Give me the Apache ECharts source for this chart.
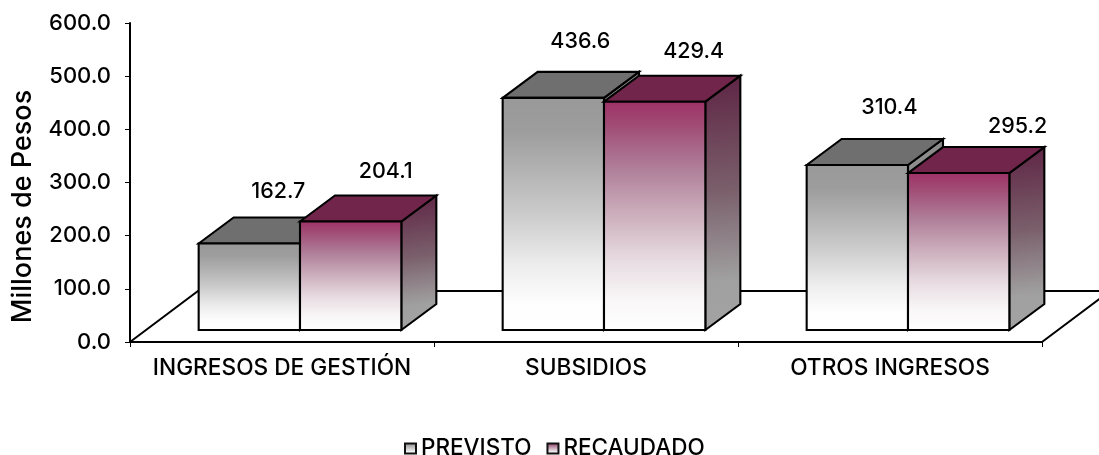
<!DOCTYPE html>
<html>
<head>
<meta charset="utf-8">
<style>html,body{margin:0;padding:0;background:#fff}#chart{width:1099px;height:455px}</style>
<script src="https://cdn.jsdelivr.net/npm/echarts@6/dist/echarts.min.js"></script>
</head>
<body>
<div id="chart"></div>
<script>
const categories = ['INGRESOS DE GESTIÓN', 'SUBSIDIOS', 'OTROS INGRESOS'];
const previsto = [162.7, 436.6, 310.4];
const recaudado = [204.1, 429.4, 295.2];

// Label displacement from each bar's front-top centre, in pixels.
const previstoLabelShift = [[29, -52], [27, -56], [32, -57]];
const recaudadoLabelShift = [[35, -50], [39, -50], [59, -47]];

const FONT = 'Inter, "Noto Sans", sans-serif';
const DEPTH_X = 35, DEPTH_Y = 26;      // bar extrusion
const BASE_X = 18, BASE_Y = 12;        // bars stand part way back on the floor
const FLOOR_X = 68, FLOOR_Y = 51;      // floor depth

const vGrad = stops => new echarts.graphic.LinearGradient(0, 0, 0, 1,
  stops.map(([offset, color]) => ({ offset, color })));

const skins = {
  gray: {
    front: () => vGrad([[0, '#999999'], [0.15, '#9d9d9d'], [0.5, '#cbcbcb'], [0.72, '#ededed'], [0.88, '#fdfdfd'], [1, '#ffffff']]),
    top: () => '#6f6f6f',
    side: () => vGrad([[0, '#8a8a8a'], [1, '#a3a3a3']])
  },
  wine: {
    front: () => vGrad([[0, '#9e3167'], [0.1, '#a04a74'], [0.3, '#b0809a'], [0.5, '#cdb0bd'], [0.7, '#e8dde2'], [0.87, '#f9f7f8'], [1, '#ffffff']]),
    top: () => '#71254b',
    side: () => new echarts.graphic.LinearGradient(0.25, 0, 0.75, 1, [
      { offset: 0, color: '#5e2444' }, { offset: 0.45, color: '#7a5f6b' }, { offset: 0.8, color: '#a0a0a0' }, { offset: 1, color: '#a3a3a3' }
    ])
  }
};

function poly(points, fill) {
  return {
    type: 'polygon',
    shape: { points },
    style: { fill, stroke: '#000', lineWidth: 2.1, lineJoin: 'miter' }
  };
}

// Draws one extruded bar; dir is -1 for the left bar of a pair, 0 for the right.
function barRenderer(skin, dir, shifts) {
  return function (params, api) {
    const idx = api.value(0), val = api.value(1);
    const top = api.coord([idx, val]);
    const zero = api.coord([idx, 0]);
    const w = api.size([1, 0])[0] / 3;
    const x0 = top[0] + BASE_X + dir * w;
    const x1 = x0 + w;
    const yt = top[1] - BASE_Y;
    const yb = zero[1] - BASE_Y;
    const shift = shifts[idx];
    return {
      type: 'group',
      children: [
        poly([[x1, yt], [x1 + DEPTH_X, yt - DEPTH_Y], [x1 + DEPTH_X, yb - DEPTH_Y], [x1, yb]], skin.side()),
        poly([[x0, yt], [x0 + DEPTH_X, yt - DEPTH_Y], [x1 + DEPTH_X, yt - DEPTH_Y], [x1, yt]], skin.top()),
        poly([[x0, yt], [x1, yt], [x1, yb], [x0, yb]], skin.front()),
        {
          type: 'text',
          style: {
            x: (x0 + x1) / 2 + shift[0],
            y: top[1] - BASE_Y + shift[1],
            text: val.toFixed(1),
            font: '500 21.5px ' + FONT,
            fill: '#000',
            align: 'center',
            verticalAlign: 'middle'
          }
        }
      ]
    };
  };
}

function floorRenderer(params, api) {
  const c = params.coordSys;
  const bottom = c.y + c.height, right = c.x + c.width;
  return {
    type: 'polyline',
    silent: true,
    shape: {
      points: [
        [c.x, bottom],
        [c.x + FLOOR_X, bottom - FLOOR_Y],
        [right + FLOOR_X, bottom - FLOOR_Y],
        [right, bottom]
      ]
    },
    style: { fill: 'none', stroke: '#000', lineWidth: 2 }
  };
}

const chart = echarts.init(document.getElementById('chart'), null, { renderer: 'canvas' });
chart.setOption({
  animation: false,
  backgroundColor: '#fff',
  grid: { left: 130, top: 23, width: 912, height: 319, containLabel: false, outerBoundsMode: 'none' },
  legend: {
    data: [
      { name: 'PREVISTO', itemStyle: { color: skins.gray.front(), borderColor: '#111', borderWidth: 2 } },
      { name: 'RECAUDADO', itemStyle: { color: skins.wine.front(), borderColor: '#111', borderWidth: 2 } }
    ],
    left: 404,
    top: 437,
    padding: 0,
    icon: 'rect',
    itemWidth: 11,
    itemHeight: 10,
    itemGap: 15,
    textStyle: { fontFamily: FONT, fontSize: 22.5, fontWeight: 500, color: '#000', padding: [0, 0, 0, 0] }
  },
  xAxis: {
    type: 'category',
    data: categories,
    axisLine: { lineStyle: { color: '#000', width: 2 } },
    axisTick: { show: true, length: 5, lineStyle: { color: '#000', width: 1 } },
    axisLabel: { color: '#000', fontFamily: FONT, fontSize: 22.7, fontWeight: 500, margin: 15, interval: 0, hideOverlap: false }
  },
  yAxis: {
    type: 'value',
    min: 0,
    max: 600,
    interval: 100,
    name: 'Millones de Pesos',
    nameLocation: 'middle',
    nameGap: 94,
    nameTextStyle: { color: '#000', fontFamily: FONT, fontSize: 27, fontWeight: 500, padding: [0, 48, 0, 0] },
    splitLine: { show: false },
    axisLine: { show: true, lineStyle: { color: '#000', width: 2 } },
    axisTick: { show: true, length: 5, lineStyle: { color: '#000', width: 1 } },
    axisLabel: {
      color: '#000', fontFamily: FONT, fontSize: 22, fontWeight: 500, margin: 19,
      formatter: v => v.toFixed(1)
    }
  },
  series: [
    {
      type: 'custom', silent: true, clip: false, z: 1,
      renderItem: floorRenderer,
      data: [[0, 0]]
    },
    {
      name: 'PREVISTO', type: 'custom', clip: false, z: 2,
      renderItem: barRenderer(skins.gray, -1, previstoLabelShift),
      encode: { x: 0, y: 1 },
      data: previsto.map((v, i) => [i, v])
    },
    {
      name: 'RECAUDADO', type: 'custom', clip: false, z: 3,
      renderItem: barRenderer(skins.wine, 0, recaudadoLabelShift),
      encode: { x: 0, y: 1 },
      data: recaudado.map((v, i) => [i, v])
    }
  ]
});
</script>
</body>
</html>
